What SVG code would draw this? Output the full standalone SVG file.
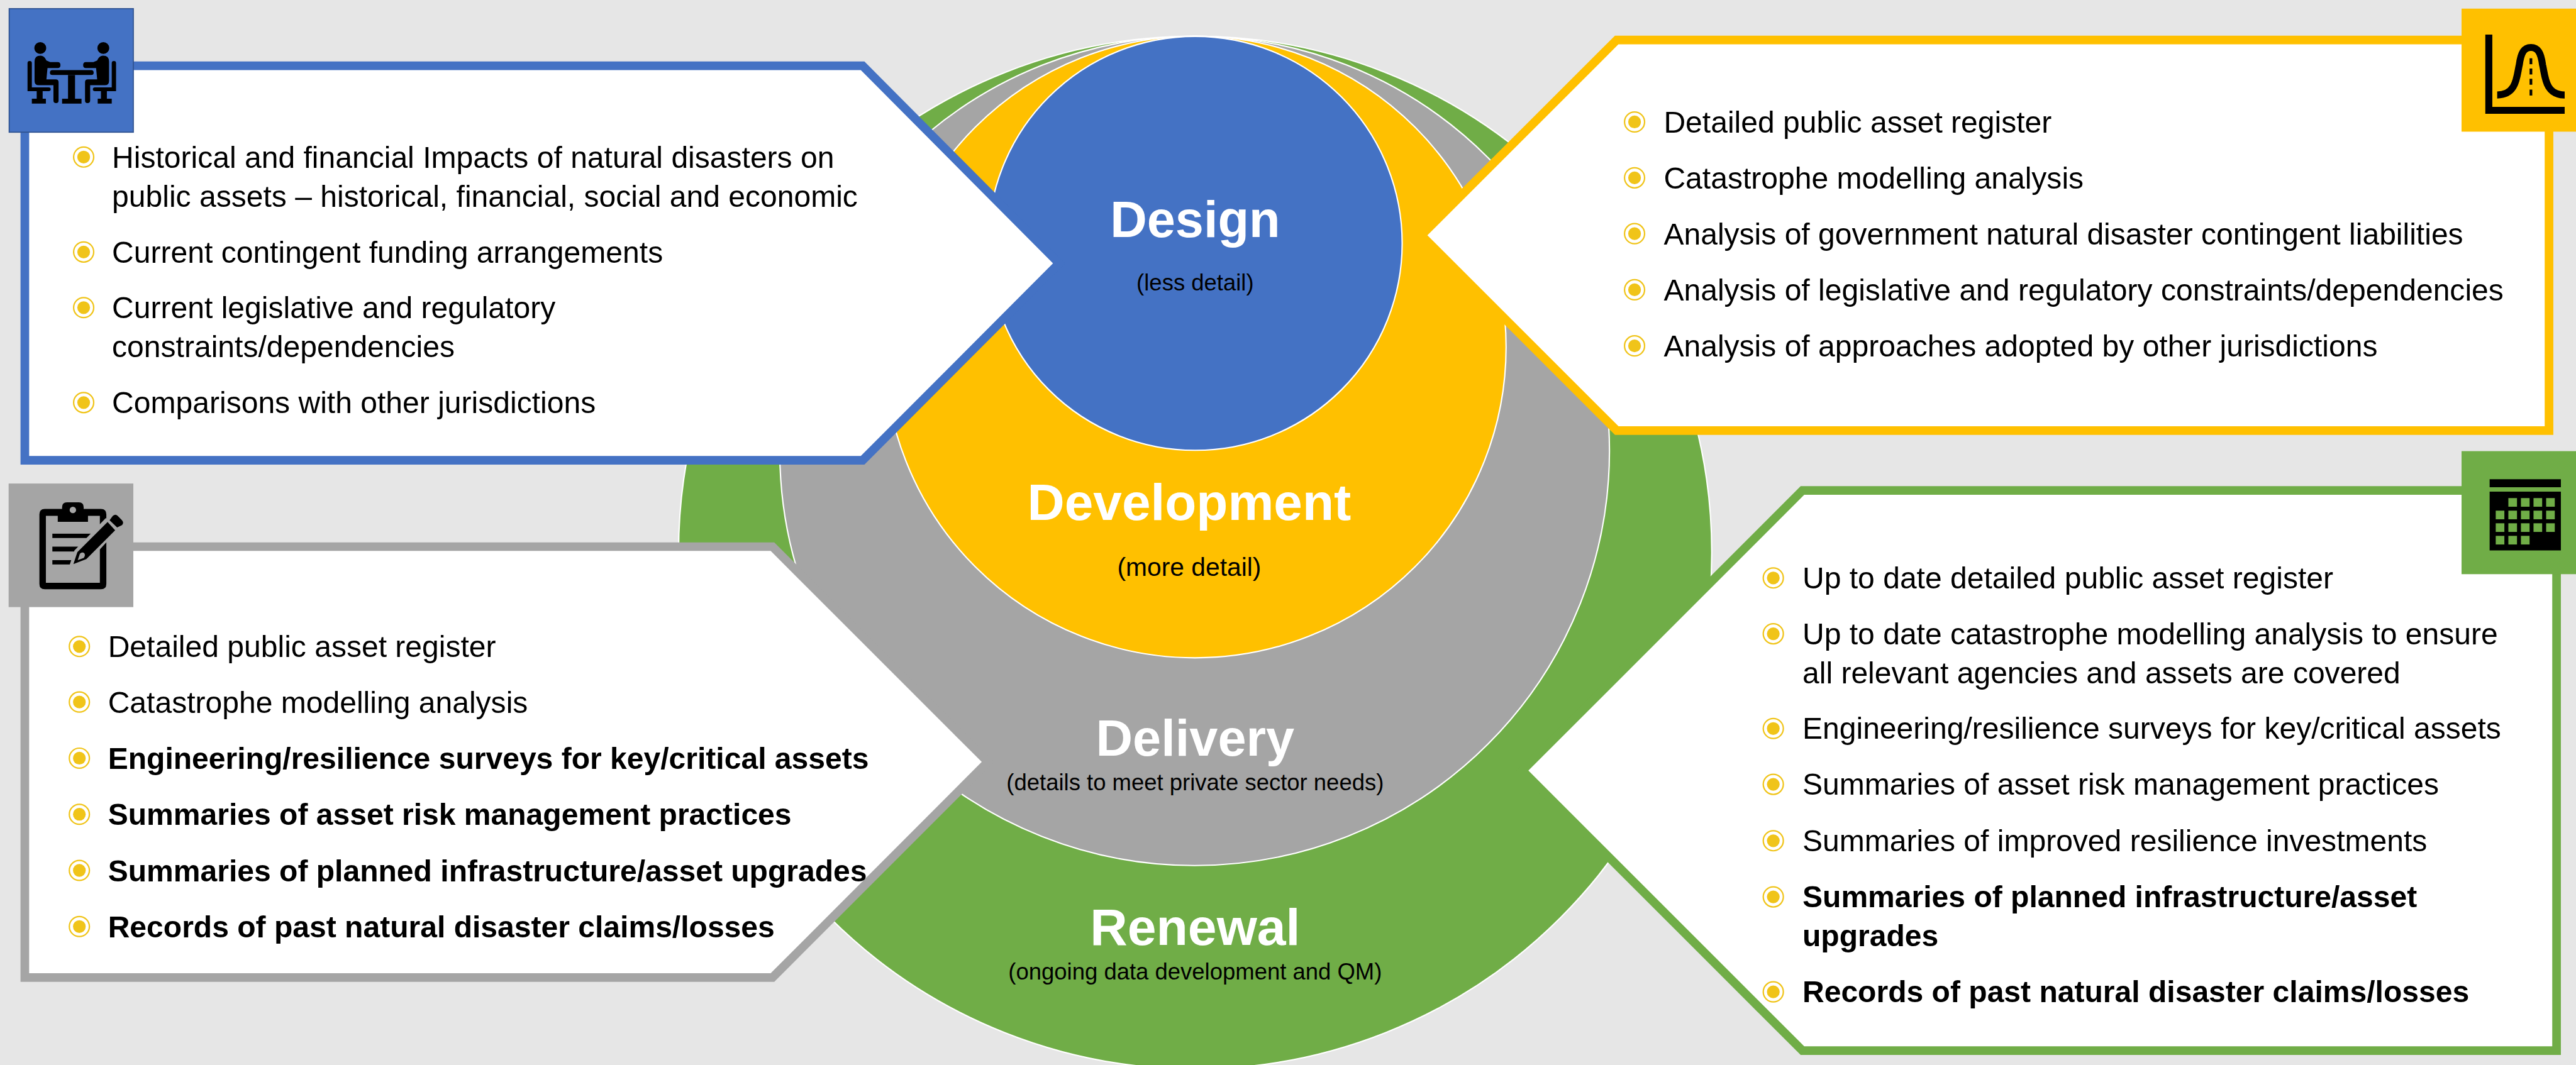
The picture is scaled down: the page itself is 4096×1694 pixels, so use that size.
<svg xmlns="http://www.w3.org/2000/svg" width="4096" height="1694" viewBox="0 0 4096 1694">
<style>
text{font-family:"Liberation Sans",Arial,sans-serif;fill:#000}
.t{font-size:56px}
.b{font-size:56px;font-weight:700}
.h{font-size:94.5px;font-weight:700;fill:#fff;text-anchor:middle}
.s{font-size:42.5px;text-anchor:middle}
.c{stroke:#fff;stroke-width:2.5}
.p{fill:#fff;stroke-width:16;stroke-linejoin:miter}
.k{fill:#000}
</style>
<defs>
<g id="bul"><circle r="18.6" fill="#fff" stroke="#F0C419" stroke-width="2.6"/><circle r="11.8" fill="#F0C419"/></g>
<g id="sitter">
<ellipse cx="74.6" cy="89" rx="11" ry="11"/>
<path d="M75 103C81 103 84 108 86 112L93 115H107Q112 115 112 120.500Q112 126 107 126H88L86 147H103Q108.500 147 108.500 152V186Q108.500 191 104 191Q99 191 99 186V158H72Q64 158 64 150V114Q64 103 75 103Z"/>
<path d="M51 117Q51 113 55 113Q59 113 59 117V162H90Q94 162 94 165.500Q94 169 90 169H79V183H85V192H59V183H68V169H51Z"/>
</g>
</defs>
<g transform="scale(0.85834)">
<rect id="background" width="4772" height="1974" fill="#E6E6E6"/>
<g id="stages">
<circle id="renewal-disc" class="c" cx="2214" cy="1024" r="957" fill="#70AD47"/>
<circle id="delivery-disc" class="c" cx="2213" cy="835.500" r="768.500" fill="#A5A5A5"/>
<circle id="development-disc" class="c" cx="2214" cy="643" r="576" fill="#FFC000"/>
<circle id="design-disc" class="c" cx="2214" cy="451" r="383.500" fill="#4472C4"/>
</g>
<g id="stage-labels">
<text class="h" x="2214" y="439">Design</text>
<text class="s" x="2214" y="538">(less detail)</text>
<text class="h" x="2203" y="963" style="font-size:95.5px">Development</text>
<text class="s" x="2203" y="1067" style="font-size:47.5px">(more detail)</text>
<text class="h" x="2214" y="1400">Delivery</text>
<text class="s" x="2214" y="1464">(details to meet private sector needs)</text>
<text class="h" x="2214" y="1751" style="font-size:96px">Renewal</text>
<text class="s" x="2214" y="1815">(ongoing data development and QM)</text>
</g>
<g id="connectors"></g>
<g id="design-box">
<polygon class="p" stroke="#4472C4" points="46,122 1598,122 1962,488 1598,853 46,853"/>
<rect x="17" y="16" width="230" height="229" fill="#4472C4" stroke="#2F528F" stroke-width="2"/>
<g class="k">
<use href="#sitter"/><use href="#sitter" transform="translate(266 0) scale(-1 1)"/>
<rect x="92.500" y="130" width="81" height="9" rx="4.500"/>
<rect x="126" y="139" width="13" height="48"/>
<rect x="115" y="183" width="36" height="9"/>
</g>
<g>
<use href="#bul" x="155" y="291"/><use href="#bul" x="155" y="467"/><use href="#bul" x="155" y="570"/><use href="#bul" x="155" y="746"/>
</g>
<text class="t" x="207.500" y="311">Historical and financial Impacts of natural disasters on</text>
<text class="t" x="207.500" y="383">public assets – historical, financial, social and economic</text>
<text class="t" x="207.500" y="487">Current contingent funding arrangements</text>
<text class="t" x="207.500" y="590">Current legislative and regulatory</text>
<text class="t" x="207.500" y="662">constraints/dependencies</text>
<text class="t" x="207.500" y="765">Comparisons with other jurisdictions</text>
</g>
<g id="development-box">
<polygon class="p" stroke="#FFC000" points="2633,436 2995,74 4722,74 4722,798 2995,798"/>
<rect x="4560" y="16" width="212" height="228" fill="#FFC000"/>
<path class="k" d="M4604 64H4617V198H4751V211H4604Z"/>
<path d="M4626 176C4663 176 4662 140 4667 120C4670 97 4676 88 4688.500 88C4701 88 4707 97 4710 120C4715 140 4714 176 4751 176" fill="none" stroke="#000" stroke-width="13"/>
<g class="k"><rect x="4686" y="108" width="5" height="11"/><rect x="4686" y="127" width="5" height="11"/><rect x="4686" y="146" width="5" height="11"/><rect x="4686" y="166" width="5" height="11"/></g>
<g>
<use href="#bul" x="3028" y="226"/><use href="#bul" x="3028" y="329.500"/><use href="#bul" x="3028" y="433"/><use href="#bul" x="3028" y="537"/><use href="#bul" x="3028" y="641"/>
</g>
<text class="t" x="3082" y="246">Detailed public asset register</text>
<text class="t" x="3082" y="349.500">Catastrophe modelling analysis</text>
<text class="t" x="3082" y="453">Analysis of government natural disaster contingent liabilities</text>
<text class="t" x="3082" y="557">Analysis of legislative and regulatory constraints/dependencies</text>
<text class="t" x="3082" y="660.500">Analysis of approaches adopted by other jurisdictions</text>
</g>
<g id="delivery-box">
<polygon class="p" stroke="#A5A5A5" points="46,1013 1431,1013 1830,1412 1431,1811.500 46,1811.500"/>
<rect x="16" y="896" width="231" height="229" fill="#A5A5A5"/>
<path class="k" fill-rule="evenodd" d="M83 943H115V940Q115 931 124 931H146Q155 931 155 940V943H187Q197 943 197 953V1082Q197 1092 187 1092H83Q73 1092 73 1082V953Q73 943 83 943ZM85 956V1080H185V956H163V967H107V956ZM135 939A6 6 0 1 0 135 951A6 6 0 1 0 135 939Z"/>
<g class="k"><rect x="97" y="989" width="72" height="8"/><rect x="97" y="1013" width="48" height="9"/><rect x="97" y="1038" width="36" height="8"/></g>
<path fill="#A5A5A5" d="M196 960L218 982L163 1042L128 1050L138 1020Z"/>
<path class="k" fill-rule="evenodd" d="M199.300 967.300L213.300 982.700L160 1036L136 1045.300L143.300 1023.300ZM148 1026L144 1038L155 1034Q159 1029 156 1025Q152 1022 148 1026Z"/>
<path class="k" d="M209 956Q214 952 218 956L226 964Q230 969 226 973L217 977.500L203 964Z"/>
<g>
<use href="#bul" x="147" y="1198"/><use href="#bul" x="147" y="1301"/><use href="#bul" x="147" y="1405"/><use href="#bul" x="147" y="1509"/><use href="#bul" x="147" y="1613"/><use href="#bul" x="147" y="1717"/>
</g>
<text class="t" x="200" y="1218">Detailed public asset register</text>
<text class="t" x="200" y="1321">Catastrophe modelling analysis</text>
<text class="b" x="200" y="1425">Engineering/resilience surveys for key/critical assets</text>
<text class="b" x="200" y="1529">Summaries of asset risk management practices</text>
<text class="b" x="200" y="1633">Summaries of planned infrastructure/asset upgrades</text>
<text class="b" x="200" y="1737">Records of past natural disaster claims/losses</text>
</g>
<g id="renewal-box">
<polygon class="p" stroke="#70AD47" points="2820,1428 3339,909 4736,909 4736,1947 3339,1947"/>
<rect x="4560" y="836" width="212" height="228" fill="#70AD47"/>
<path class="k" d="M4612 888H4744V903H4612ZM4612 911H4744V1020H4612Z"/>
<g fill="#70AD47">
<rect x="4646.700" y="923" width="16" height="16"/><rect x="4670" y="923" width="16" height="16"/><rect x="4693.300" y="923" width="16" height="16"/><rect x="4716.700" y="923" width="16" height="16"/>
<rect x="4623.300" y="946.300" width="16" height="16"/><rect x="4646.700" y="946.300" width="16" height="16"/><rect x="4670" y="946.300" width="16" height="16"/><rect x="4693.300" y="946.300" width="16" height="16"/><rect x="4716.700" y="946.300" width="16" height="16"/>
<rect x="4623.300" y="969.700" width="16" height="16"/><rect x="4646.700" y="969.700" width="16" height="16"/><rect x="4670" y="969.700" width="16" height="16"/><rect x="4693.300" y="969.700" width="16" height="16"/><rect x="4716.700" y="969.700" width="16" height="16"/>
<rect x="4623.300" y="993" width="16" height="16"/><rect x="4646.700" y="993" width="16" height="16"/><rect x="4670" y="993" width="16" height="16"/>
</g>
<g>
<use href="#bul" x="3285" y="1071"/><use href="#bul" x="3285" y="1174.500"/><use href="#bul" x="3285" y="1350"/><use href="#bul" x="3285" y="1453.500"/><use href="#bul" x="3285" y="1558"/><use href="#bul" x="3285" y="1662"/><use href="#bul" x="3285" y="1838"/>
</g>
<text class="t" x="3339" y="1090.500">Up to date detailed public asset register</text>
<text class="t" x="3339" y="1194">Up to date catastrophe modelling analysis to ensure</text>
<text class="t" x="3339" y="1266">all relevant agencies and assets are covered</text>
<text class="t" x="3339" y="1369.500">Engineering/resilience surveys for key/critical assets</text>
<text class="t" x="3339" y="1473">Summaries of asset risk management practices</text>
<text class="t" x="3339" y="1577">Summaries of improved resilience investments</text>
<text class="b" x="3339" y="1681">Summaries of planned infrastructure/asset</text>
<text class="b" x="3339" y="1753">upgrades</text>
<text class="b" x="3339" y="1857">Records of past natural disaster claims/losses</text>
</g>
</g>
</svg>
